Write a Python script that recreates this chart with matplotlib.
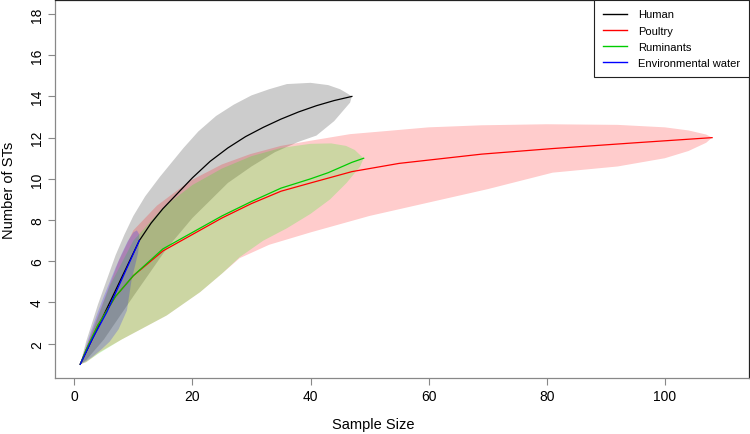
import matplotlib
matplotlib.use("Agg")
import matplotlib.pyplot as plt
from matplotlib.lines import Line2D

plt.rcParams["font.family"] = ["Liberation Sans", "DejaVu Sans"]

# rarefaction curves (sample size, number of STs)
human_n = [1, 2, 3, 5, 7, 9, 11, 13, 15, 17, 20, 23, 26, 29, 32, 35, 38, 41, 44, 47]
human_s = [1.0, 1.6, 2.2, 3.4, 4.6, 5.8, 7.0, 7.85, 8.55, 9.15, 10.05, 10.85, 11.5,
           12.05, 12.5, 12.9, 13.25, 13.55, 13.8, 14.0]

poultry_n = [1, 2, 4, 7, 10, 15, 20, 25, 30, 35, 40, 47, 55, 69, 81, 95, 108]
poultry_s = [1.0, 1.7, 2.9, 4.3, 5.3, 6.5, 7.3, 8.1, 8.8, 9.4, 9.8, 10.35, 10.75,
             11.2, 11.47, 11.75, 12.0]

rumin_n = [1, 2, 4, 7, 10, 15, 20, 25, 30, 35, 40, 43, 47, 49]
rumin_s = [1.0, 1.7, 2.9, 4.3, 5.3, 6.6, 7.4, 8.2, 8.9, 9.55, 10.0, 10.3, 10.8, 11.0]

water_n = [1, 3, 5.5, 8, 11]
water_s = [1.0, 2.2, 3.53, 5.1, 7.0]

# confidence envelopes: upper edge left->right, lower edge right->left
human_up_n = [1, 2, 3, 4, 5.5, 7, 8.5, 10, 12, 14.5, 18.5, 21, 24, 27, 30, 33, 36,
              40, 43, 45, 46.2, 47]
human_up_s = [1.0, 2.1, 3.0, 3.9, 5.1, 6.3, 7.3, 8.2, 9.15, 10.1, 11.5, 12.3, 13.05,
              13.6, 14.05, 14.35, 14.6, 14.66, 14.55, 14.35, 14.15, 14.0]
human_lo_n = [47, 46.7, 45.5, 44, 41, 38, 34, 30, 26, 20, 15.6, 10, 5, 2, 1]
human_lo_s = [14.0, 13.7, 13.3, 12.8, 12.1, 11.8, 11.3, 10.6, 9.8, 8.1, 6.6, 4.3,
              2.2, 1.2, 1.0]

poultry_up_n = [1, 3, 5, 7.5, 10, 14, 19.6, 25, 29.8, 35, 40, 46.7, 52, 60, 69, 80,
                92, 100, 104, 107, 108]
poultry_up_s = [1.0, 2.6, 4.1, 6.0, 7.5, 8.7, 9.9, 10.7, 11.2, 11.6, 11.85, 12.17,
                12.3, 12.5, 12.6, 12.65, 12.62, 12.5, 12.35, 12.15, 12.0]
poultry_lo_n = [108, 107, 104, 100, 92, 81, 70, 60, 50, 40, 33, 28, 25, 21.3, 15.65,
                8, 4.35, 2, 1]
poultry_lo_s = [12.0, 11.75, 11.35, 11.0, 10.6, 10.3, 9.5, 8.85, 8.2, 7.4, 6.8, 6.15,
                5.4, 4.5, 3.37, 2.2, 1.6, 1.1, 1.0]

rumin_up_n = [1, 3, 6, 10, 15, 20, 25, 30, 35, 40, 43.5, 46, 47.5, 48.6, 49]
rumin_up_s = [1.0, 2.5, 4.8, 7.0, 8.6, 9.7, 10.5, 11.1, 11.5, 11.7, 11.72, 11.6,
              11.4, 11.1, 11.0]
rumin_lo_n = [49, 48.4, 46.1, 43.3, 40, 36, 32, 28, 25, 21.3, 15.65, 8, 4, 2, 1]
rumin_lo_s = [11.0, 10.6, 9.8, 9.0, 8.3, 7.6, 7.0, 6.2, 5.4, 4.5, 3.37, 2.2, 1.5,
              1.1, 1.0]

water_up_n = [1, 2, 3, 4, 5, 6, 7, 8, 9, 10, 10.6, 11]
water_up_s = [1.0, 1.9, 2.75, 3.55, 4.3, 5.0, 5.7, 6.35, 6.95, 7.4, 7.5, 7.3]
water_lo_n = [11, 10.8, 10.3, 9.7, 8.9, 7.5, 6, 4.5, 3, 2, 1]
water_lo_s = [7.0, 6.4, 5.8, 5.1, 3.6, 2.7, 2.1, 1.7, 1.35, 1.15, 1.0]

groups = [
    ("Human", "black", human_n, human_s, human_up_n, human_up_s, human_lo_n, human_lo_s),
    ("Poultry", "red", poultry_n, poultry_s, poultry_up_n, poultry_up_s, poultry_lo_n, poultry_lo_s),
    ("Ruminants", "#00cc00", rumin_n, rumin_s, rumin_up_n, rumin_up_s, rumin_lo_n, rumin_lo_s),
    ("Environmental water", "blue", water_n, water_s, water_up_n, water_up_s, water_lo_n, water_lo_s),
]
fill_cols = {"Human": "black", "Poultry": "red", "Ruminants": "#00ff00",
             "Environmental water": "blue"}

fig = plt.figure(figsize=(7.5, 4.35), dpi=100)
ax = fig.add_axes([55 / 750, (435 - 379.3) / 435, 694.3 / 750, 378.3 / 435])

for name, col, n, s, un, us, ln, ls in groups:
    ax.fill(un + ln, us + ls, color=fill_cols[name], alpha=0.2, lw=0)
    ax.plot(n, s, color=col, lw=0.9)

ax.set_xlim(-3.27, 114.3)
ax.set_ylim(0.32, 18.68)
ax.set_xticks([0, 20, 40, 60, 80, 100])
ax.set_yticks([2, 4, 6, 8, 10, 12, 14, 16, 18])
ax.tick_params(axis="both", direction="out", length=5, width=0.8, color="#888888",
               labelsize=10, pad=3)
for lab in ax.get_yticklabels():
    lab.set_rotation(90)
    lab.set_va("center")
for side in ["left", "bottom"]:
    ax.spines[side].set_color("#888888")
for side in ["top", "right"]:
    ax.spines[side].set_color("#222222")
for sp in ax.spines.values():
    sp.set_linewidth(0.9)

ax.set_xlabel("Sample Size", fontsize=10.5)
ax.xaxis.set_label_coords(0.458, -0.121, transform=ax.transAxes)
ax.xaxis.label.set_va("center")
ax.set_ylabel("Number of STs", fontsize=10.5, labelpad=10)

handles = [Line2D([], [], color=g[1], lw=1) for g in groups]
leg = ax.legend(handles, [g[0] for g in groups], loc="upper right", fontsize=8,
                frameon=True, fancybox=False, edgecolor="#222222", framealpha=1,
                handlelength=2.1, handletextpad=1.0, borderpad=0.85, labelspacing=0.55,
                borderaxespad=0)
leg.get_frame().set_linewidth(0.8)

fig.savefig("out.png", dpi=100)
